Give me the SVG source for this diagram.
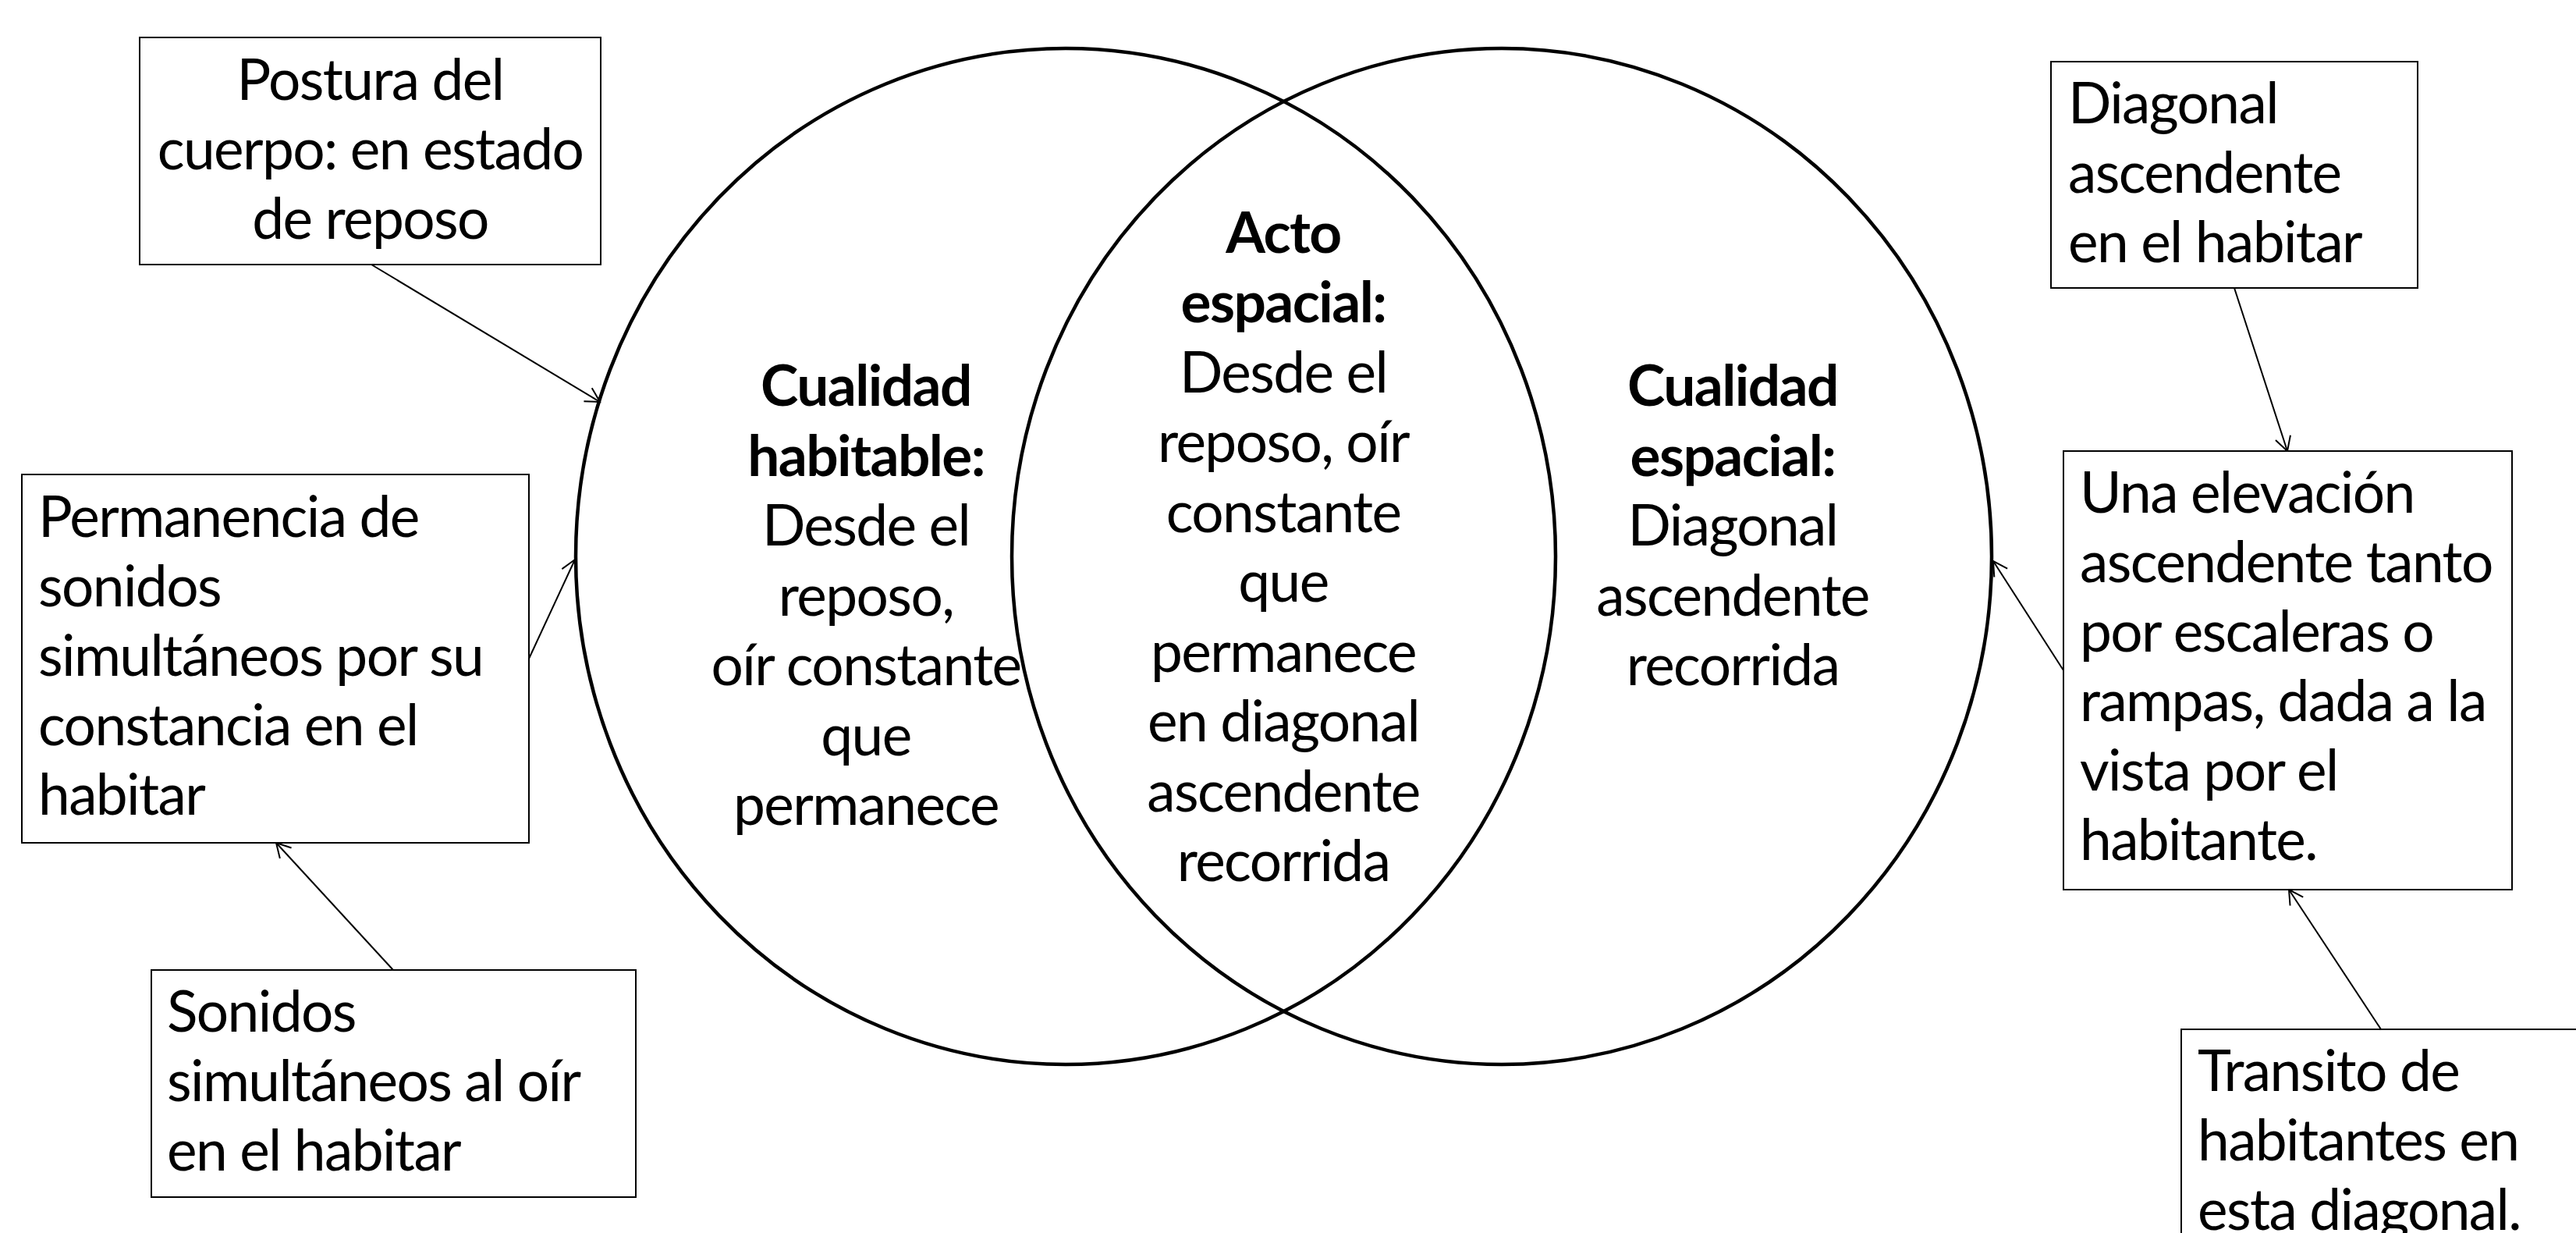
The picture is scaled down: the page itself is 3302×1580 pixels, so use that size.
<svg xmlns="http://www.w3.org/2000/svg" width="3302" height="1580" viewBox="0 0 3302 1580">
<style>
.bg{fill:#fff}
.box{fill:#fff;stroke:#000;stroke-width:2}
.ell{fill:none;stroke:#000;stroke-width:4.5}
.con{fill:none;stroke:#000;stroke-width:2;marker-end:url(#arr)}
text{font-family:Lato,"Liberation Sans",sans-serif;font-size:73px;letter-spacing:-1.6px;fill:#000}
.c{text-anchor:middle}
.b{font-weight:bold}
</style>
<defs>
<marker id="arr" markerUnits="userSpaceOnUse" markerWidth="40" markerHeight="40" refX="0" refY="0" viewBox="-25 -20 30 40" orient="auto">
<path d="M-18,-10 L0,0 L-18,10" fill="none" stroke="#000" stroke-width="2"/>
</marker>
</defs>
<rect class="bg" x="0" y="0" width="3302" height="1580"/>
<g id="venn">
<ellipse id="circle-left" class="ell" cx="1366" cy="713" rx="628" ry="651"/>
<ellipse id="circle-right" class="ell" cx="1925" cy="713" rx="628" ry="651"/>
</g>
<g id="connectors">
<line class="con" x1="476" y1="339" x2="769" y2="515"/>
<line class="con" x1="678" y1="844" x2="737" y2="717"/>
<line class="con" x1="504" y1="1243" x2="354" y2="1080"/>
<line class="con" x1="2864" y1="369" x2="2932" y2="578"/>
<line class="con" x1="2645" y1="859" x2="2555" y2="719"/>
<line class="con" x1="3052" y1="1319" x2="2934" y2="1140"/>
</g>
<g id="cualidad-habitable">
<text class="c b" x="1110" y="520">Cualidad</text>
<text class="c b" x="1110" y="610">habitable:</text>
<text class="c" x="1110" y="699">Desde el</text>
<text class="c" x="1110" y="789">reposo,</text>
<text class="c" x="1110" y="878">oír constante</text>
<text class="c" x="1110" y="968">que</text>
<text class="c" x="1110" y="1057">permanece</text>
</g>
<g id="acto-espacial">
<text class="c b" x="1645" y="324">Acto</text>
<text class="c b" x="1645" y="413">espacial:</text>
<text class="c" x="1645" y="503">Desde el</text>
<text class="c" x="1645" y="592">reposo, oír</text>
<text class="c" x="1645" y="682">constante</text>
<text class="c" x="1645" y="771">que</text>
<text class="c" x="1645" y="861">permanece</text>
<text class="c" x="1645" y="950">en diagonal</text>
<text class="c" x="1645" y="1040">ascendente</text>
<text class="c" x="1645" y="1129">recorrida</text>
</g>
<g id="cualidad-espacial">
<text class="c b" x="2221" y="520">Cualidad</text>
<text class="c b" x="2221" y="610">espacial:</text>
<text class="c" x="2221" y="699">Diagonal</text>
<text class="c" x="2221" y="789">ascendente</text>
<text class="c" x="2221" y="878">recorrida</text>
</g>
<g id="postura">
<rect class="box" x="179" y="48" width="591" height="291"/>
<text class="c" x="474.5" y="128">Postura del</text>
<text class="c" x="474.5" y="217">cuerpo: en estado</text>
<text class="c" x="474.5" y="306">de reposo</text>
</g>
<g id="permanencia">
<rect class="box" x="28" y="608" width="650" height="472"/>
<text x="49" y="688">Permanencia de</text>
<text x="49" y="777">sonidos</text>
<text x="49" y="866">simultáneos por su</text>
<text x="49" y="955">constancia en el</text>
<text x="49" y="1044">habitar</text>
</g>
<g id="sonidos">
<rect class="box" x="194" y="1243" width="621" height="291"/>
<text x="214" y="1322">Sonidos</text>
<text x="214" y="1411">simultáneos al oír</text>
<text x="214" y="1500">en el habitar</text>
</g>
<g id="diagonal">
<rect class="box" x="2629" y="79" width="470" height="290"/>
<text x="2651" y="158">Diagonal</text>
<text x="2651" y="247">ascendente</text>
<text x="2651" y="336">en el habitar</text>
</g>
<g id="elevacion">
<rect class="box" x="2645" y="578" width="575" height="562"/>
<text x="2666" y="657">Una elevación</text>
<text x="2666" y="746">ascendente tanto</text>
<text x="2666" y="835">por escaleras o</text>
<text x="2666" y="924">rampas, dada a la</text>
<text x="2666" y="1013">vista por el</text>
<text x="2666" y="1102">habitante.</text>
</g>
<g id="transito">
<rect class="box" x="2796" y="1319" width="540" height="320"/>
<text x="2817" y="1398">Transito de</text>
<text x="2817" y="1487">habitantes en</text>
<text x="2817" y="1576">esta diagonal.</text>
</g>
</svg>
